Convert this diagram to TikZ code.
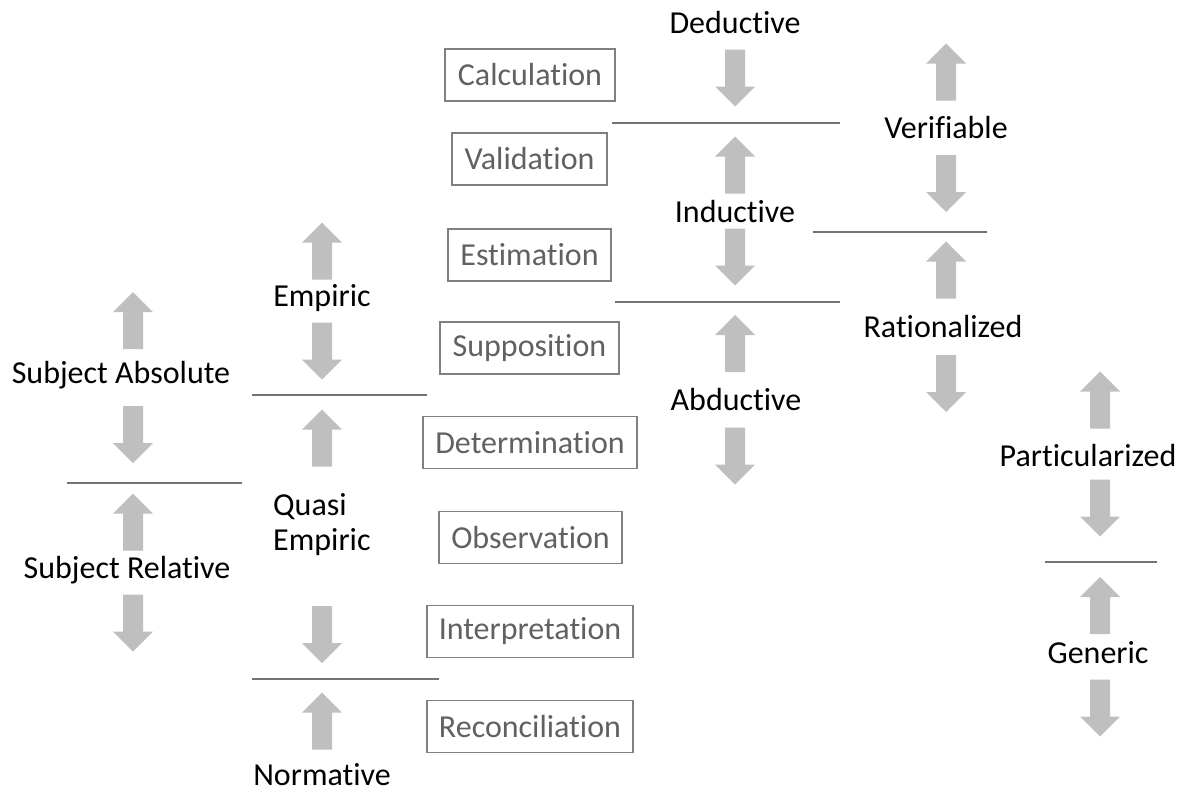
\documentclass[tikz,border=0pt]{standalone}
\usepackage{fontspec}
\setmainfont{Carlito}[Ligatures={NoCommon}]
\begin{document}
\begin{tikzpicture}[x=1pt,y=-1pt,
  font=\fontsize{32}{35}\selectfont,
  lbl/.style={text=black,inner sep=0pt},
  stage/.style={draw=black!50,line width=1.4pt,text=black!62,inner sep=0pt,minimum height=52pt},
  divider/.style={draw=black!55,line width=1.4pt},
  arrowfill/.style={fill=black!25},
  uparr/.pic={\fill[arrowfill] (0,-28.5) -- (20,-8.5) -- (10,-8.5) -- (10,28.5) -- (-10,28.5) -- (-10,-8.5) -- (-20,-8.5) -- cycle;},
  downarr/.pic={\fill[arrowfill] (0,28.5) -- (20,8.5) -- (10,8.5) -- (10,-28.5) -- (-10,-28.5) -- (-10,8.5) -- (-20,8.5) -- cycle;}
]
\useasboundingbox[fill=white] (0,0) rectangle (1181,793);

% ---------- subject column ----------
\pic (sa-up) at (133,320.5) {uparr};
\node[lbl] (sabs) at (121,375) {Subject Absolute};
\pic (sa-dn) at (133,434.5) {downarr};
\coordinate (d1a) at (67,483); \coordinate (d1b) at (242,483);
\draw[divider] (d1a) -- (d1b);
\pic (sr-up) at (133,522) {uparr};
\node[lbl] (srel) at (127,570) {Subject Relative};
\pic (sr-dn) at (133,623) {downarr};

% ---------- empiric column ----------
\pic (em-up) at (322,251) {uparr};
\node[lbl] (emp) at (322,298) {Empiric};
\pic (em-dn) at (322,351) {downarr};
\coordinate (d2a) at (252,395); \coordinate (d2b) at (427,395);
\draw[divider] (d2a) -- (d2b);
\pic (qe-up) at (322,438) {uparr};
\node[lbl,anchor=west,align=left] (qemp) at (273,525) {Quasi\\Empiric};
\pic (qe-dn) at (322,634.5) {downarr};
\coordinate (d3a) at (252,679); \coordinate (d3b) at (439,679);
\draw[divider] (d3a) -- (d3b);
\pic (no-up) at (322,721) {uparr};
\node[lbl] (norm) at (322,775) {Normative};

% ---------- stages ----------
\node[stage,minimum width=170pt] (calc) at (530,75) {Calculation};
\node[stage,minimum width=155pt] (valid) at (529.5,159) {Validation};
\node[stage,minimum width=163pt] (estim) at (529.5,255) {Estimation};
\node[stage,minimum width=179pt] (suppo) at (529.5,348) {Supposition};
\node[stage,minimum width=214pt] (deter) at (530,442.5) {Determination};
\node[stage,minimum width=183pt] (obser) at (530.5,537.5) {Observation};
\node[stage,minimum width=206pt] (inter) at (530,631.5) {Interpretation};
\node[stage,minimum width=206pt] (recon) at (530,726.5) {Reconciliation};

% ---------- inference column ----------
\node[lbl] (ded) at (735,23) {Deductive};
\pic (de-dn) at (735,78) {downarr};
\coordinate (d4a) at (612,123); \coordinate (d4b) at (840,123);
\draw[divider] (d4a) -- (d4b);
\pic (in-up) at (735,165) {uparr};
\node[lbl] (ind) at (735,212) {Inductive};
\pic (in-dn) at (735,257) {downarr};
\coordinate (d5a) at (615,302); \coordinate (d5b) at (840,302);
\draw[divider] (d5a) -- (d5b);
\pic (ab-up) at (735,343.5) {uparr};
\node[lbl] (abd) at (736,400) {Abductive};
\pic (ab-dn) at (735,456) {downarr};

% ---------- verification column ----------
\pic (ve-up) at (946,72) {uparr};
\node[lbl] (ver) at (946,128) {Verifiable};
\pic (ve-dn) at (946,183.5) {downarr};
\coordinate (d6a) at (813,232); \coordinate (d6b) at (987,232);
\draw[divider] (d6a) -- (d6b);
\pic (ra-up) at (946,270) {uparr};
\node[lbl] (rat) at (943,327) {Rationalized};
\pic (ra-dn) at (946,383.5) {downarr};

% ---------- generality column ----------
\pic (pa-up) at (1100,400) {uparr};
\node[lbl] (par) at (1088,455) {Particularized};
\pic (pa-dn) at (1100,508) {downarr};
\coordinate (d7a) at (1045,562); \coordinate (d7b) at (1157,562);
\draw[divider] (d7a) -- (d7b);
\pic (ge-up) at (1100,605.5) {uparr};
\node[lbl] (gen) at (1098,653) {Generic};
\pic (ge-dn) at (1100,708) {downarr};
\end{tikzpicture}
\end{document}
